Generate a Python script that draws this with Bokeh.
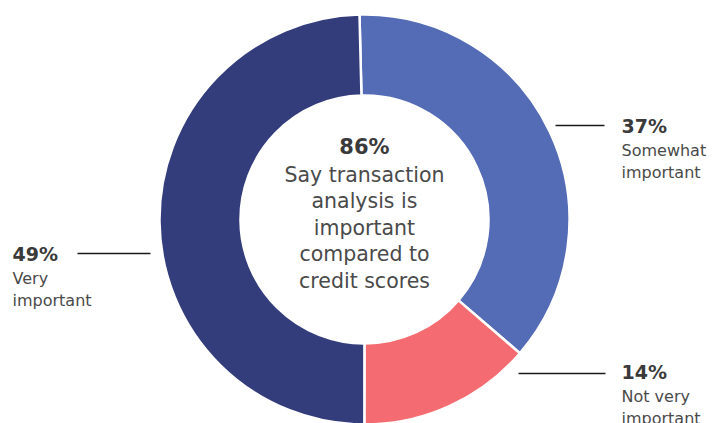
import math
from bokeh.plotting import figure
from bokeh.models import Range1d
from bokeh.core.properties import value
from bokeh.embed import file_html
from bokeh.resources import INLINE

# ---- data ----
categories = ["Somewhat important", "Not very important", "Very important"]
shares = [36.7, 13.7, 49.6]          # slice sizes
pct_labels = ["37%", "14%", "49%"]   # labels printed on the chart
colors = ["#546BB6", "#F46C71", "#343D7B"]
center_value = "86%"
center_lines = ["Say transaction", "analysis is", "important", "compared to", "credit scores"]
label_lines = [["Somewhat", "important"], ["Not very", "important"], ["Very", "important"]]

W, H = 712, 423
FONT = "DejaVu Sans"
SHIFT = -7  # text baseline correction

p = figure(width=W, height=H, output_backend="svg", toolbar_location=None,
           x_range=Range1d(0, W), y_range=Range1d(0, H), min_border=0)
p.axis.visible = False
p.grid.visible = False
p.outline_line_color = None
p.background_fill_color = "white"

def Y(py):
    return H - py

def TY(py):
    return H - (py + SHIFT)

cx, cy = 364, Y(219)
r_in, r_out = 124, 205

# slices clockwise from just left of 12 o'clock
start = math.radians(90 + 1.4)
total = sum(shares)
starts, ends = [], []
a = start
for s in shares:
    b = a - 2 * math.pi * s / total
    starts.append(b)
    ends.append(a)
    a = b

p.annular_wedge(x=[cx] * 3, y=[cy] * 3, inner_radius=r_in, outer_radius=r_out,
                inner_radius_units="screen", outer_radius_units="screen",
                start_angle=starts, end_angle=ends,
                fill_color=colors, line_color="white", line_width=2.5)

# center text
p.text(x=[cx], y=[TY(153)], text=[center_value], text_align="center",
       text_baseline="alphabetic", text_font=value(FONT), text_font_style="bold",
       text_font_size="21px", text_color="#3a3a3a")
base = 181
p.text(x=[cx] * len(center_lines), y=[TY(base + i * 26.5) for i in range(len(center_lines))],
       text=center_lines, text_align="center", text_baseline="alphabetic",
       text_font=value(FONT), text_font_size="20.5px", text_color="#4a4a4a")

# outside labels: (label x, percent baseline, line y, line x0, line x1)
layout = [
    (621, 132, 125, 555, 604),
    (621, 378, 373, 518, 605),
    (12, 260, 253, 77, 150),
]
for i, (lx, by, ly, x0, x1) in enumerate(layout):
    p.line(x=[x0, x1], y=[Y(ly), Y(ly)], line_color="#1a1a1a", line_width=1.5)
    p.text(x=[lx], y=[TY(by)], text=[pct_labels[i]], text_align="left",
           text_baseline="alphabetic", text_font=value(FONT), text_font_style="bold",
           text_font_size="19px", text_color="#3a3a3a")
    lines = label_lines[i]
    p.text(x=[lx] * len(lines), y=[TY(by + 25 + j * 21.5) for j in range(len(lines))],
           text=lines, text_align="left", text_baseline="alphabetic",
           text_font=value(FONT), text_font_size="16px", text_color="#4a4a4a")

open("out.html", "w").write(file_html(p, INLINE))
